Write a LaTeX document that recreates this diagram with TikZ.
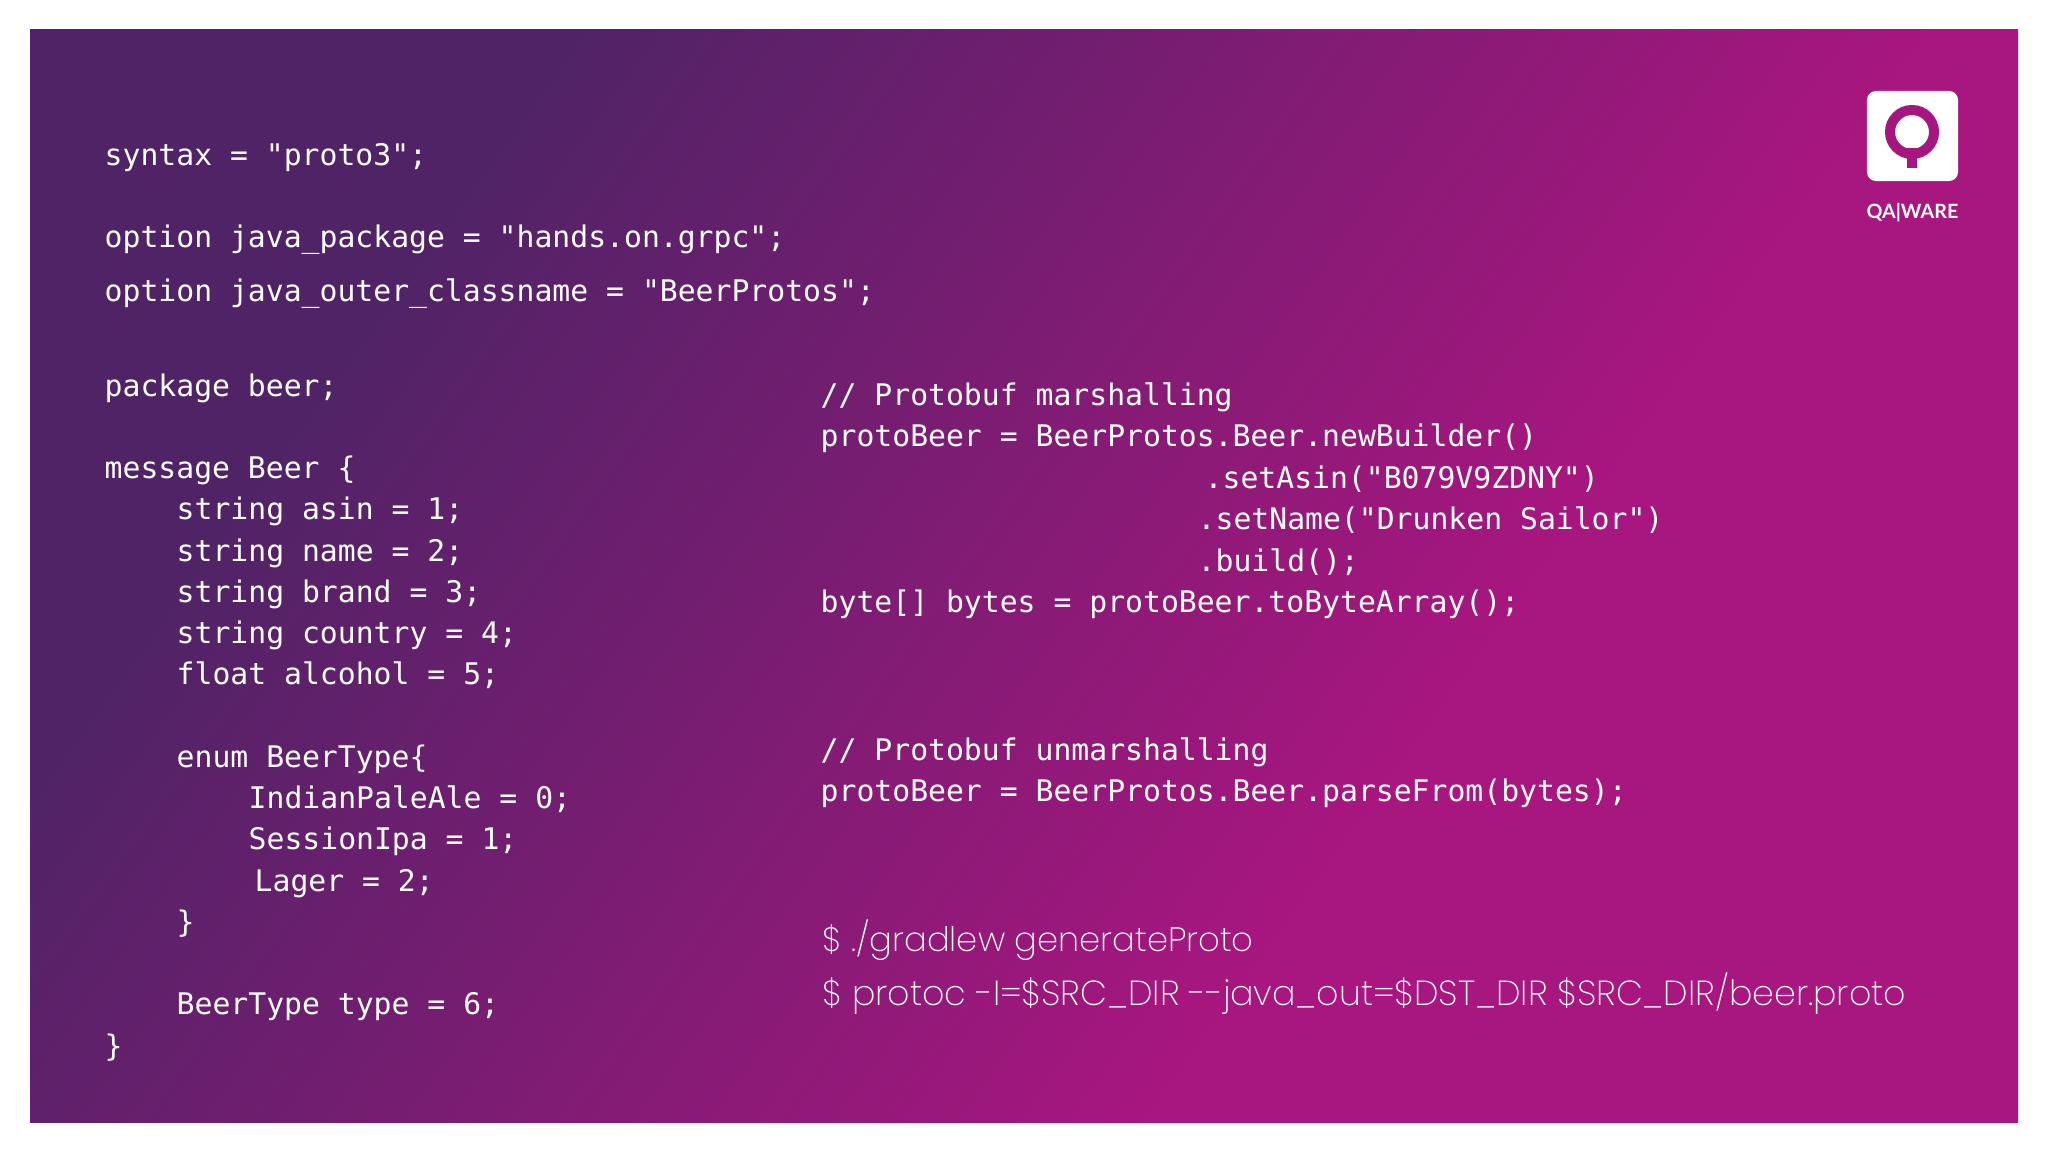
\documentclass[tikz,border=0pt]{standalone}
\usepackage{xcolor}
\usepackage{fontspec}
\usetikzlibrary{positioning,arrows.meta}
\setmonofont{DejaVu Sans Mono}
\newfontfamily\shellfont{Poppins ExtraLight}
\newfontfamily\brandfont{Lato Bold}

\definecolor{bgdark}{HTML}{4F2366}
\definecolor{bgmagenta}{HTML}{A8167F}
\definecolor{logomagenta}{HTML}{A5177F}
\pgfdeclareverticalshading{slidebg}{100bp}{color(0bp)=(bgdark); color(28.5bp)=(bgdark); color(63bp)=(bgmagenta); color(100bp)=(bgmagenta)}

\tikzset{
  codeline/.style={anchor=base west, inner sep=0pt, text=white, font=\ttfamily\fontsize{8.46}{10}\selectfont},
  shellline/.style={anchor=base west, inner sep=0pt, text=white, font=\shellfont\fontsize{9.6}{11}\selectfont},
}

\begin{document}
\begin{tikzpicture}[x=0.01cm, y=-0.01cm]
\useasboundingbox[fill=white] (0,0) rectangle (2048,1152);
\shade[shading=slidebg, shading angle=-125.7] (30,30) rectangle (2018,1122);

% proto file
\node[codeline] (syntax) at (104,166) {syntax = "proto3";};
\node[codeline] (java_package) at (104,248) {option java\_package = "hands.on.grpc";};
\node[codeline] (java_outer) at (104,302) {option java\_outer\_classname = "BeerProtos";};
\node[codeline] (package) at (104,397) {package beer;};
\node[codeline] (message) at (104,479) {message Beer \{};
\node[codeline] (field_asin) at (176,520) {string asin = 1;};
\node[codeline] (field_name) at (176,561) {string name = 2;};
\node[codeline] (field_brand) at (176,603) {string brand = 3;};
\node[codeline] (field_country) at (176,643) {string country = 4;};
\node[codeline] (field_alcohol) at (176,685) {float alcohol = 5;};
\node[codeline] (enum_open) at (176,767) {enum BeerType\{};
\node[codeline] (enum_ipa) at (248,808) {IndianPaleAle = 0;};
\node[codeline] (enum_session) at (248,849) {SessionIpa = 1;};
\node[codeline] (enum_lager) at (254,891) {Lager = 2;};
\node[codeline] (enum_close) at (176,932) {\}};
\node[codeline] (field_type) at (176,1014) {BeerType type = 6;};
\node[codeline] (message_close) at (104,1056) {\}};

% marshalling
\node[codeline] (marshal_note) at (820,406) {// Protobuf marshalling};
\node[codeline] (marshal_new) at (820,447) {protoBeer = BeerProtos.Beer.newBuilder()};
\node[codeline] (marshal_asin) at (1204,489) {.setAsin("B079V9ZDNY")};
\node[codeline] (marshal_name) at (1197,530) {.setName("Drunken Sailor")};
\node[codeline] (marshal_build) at (1197,571) {.build();};
\node[codeline] (marshal_bytes) at (820,613) {byte[] bytes = protoBeer.toByteArray();};

% unmarshalling
\node[codeline] (unmarshal_note) at (820,760) {// Protobuf unmarshalling};
\node[codeline] (unmarshal_parse) at (820,801) {protoBeer = BeerProtos.Beer.parseFrom(bytes);};

% commands
\node[shellline] (shell_gradle) at (822,951) {\$ ./gradlew generateProto};
\node[shellline, font=\shellfont\fontsize{9.9}{11}\selectfont] (shell_protoc) at (822,1005) {\$ protoc -I=\$SRC\_DIR --java\_out=\$DST\_DIR \$SRC\_DIR/beer.proto};

% logo
\node[fill=white, rounded corners=0.09cm, minimum width=0.91cm, minimum height=0.9cm, inner sep=0pt] (logo_box) at (1912.5,136) {};
\node[fill=logomagenta, minimum width=0.1cm, minimum height=0.2cm, inner sep=0pt] (logo_stem) at (1912,158) {};
\node[circle, draw=logomagenta, line width=0.1cm, minimum size=0.44cm, inner sep=0pt] (logo_ring) at (1912,132) {};
\node[anchor=base, inner sep=0pt, text=white, font=\brandfont\fontsize{5.6}{6}\selectfont] (logo_text) at (1912.5,219) {QA|WARE};
\end{tikzpicture}
\end{document}
